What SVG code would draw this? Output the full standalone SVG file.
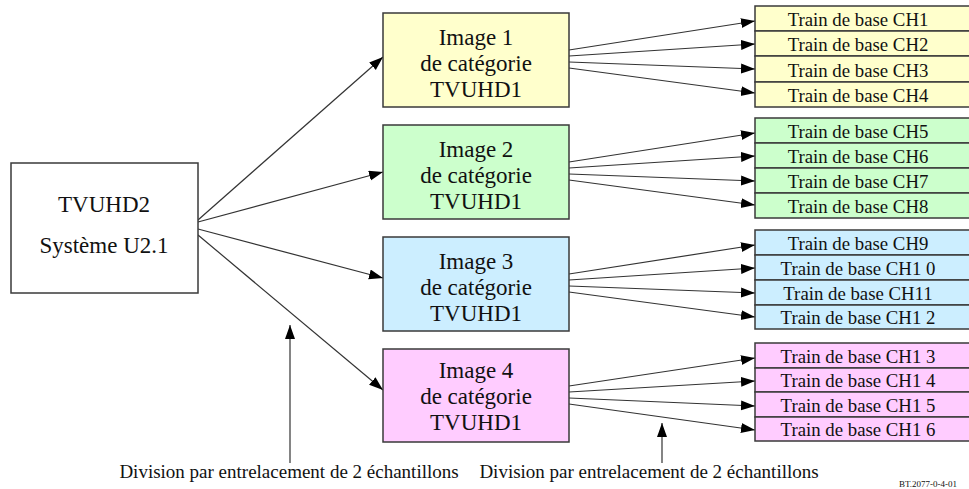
<svg xmlns="http://www.w3.org/2000/svg" width="969" height="489" viewBox="0 0 969 489">
<style>
.box{stroke:#3a3a3a;stroke-width:1.5}
text{font-family:'Liberation Serif','DejaVu Serif','Noto Serif',serif;fill:#111;text-anchor:middle}
.big{font-size:23px}
.sm{font-size:18.8px}
.lab{font-size:19px}
.ln{stroke:#333;stroke-width:1.2;fill:none;marker-end:url(#ah)}
.y{fill:#FFFFCC}.g{fill:#CCFFCC}.b{fill:#CCEEFF}.p{fill:#FFCCFF}
</style>
<defs>
<marker id="ah" markerUnits="userSpaceOnUse" markerWidth="16" markerHeight="12" refX="14" refY="5" orient="auto">
<path d="M0,0 L14,5 L0,10 Z" fill="#000"/>
</marker>
</defs>
<rect width="969" height="489" fill="#fff"/>
<g id="connectors">
<path class="ln" d="M198,220 L383,57"/>
<path class="ln" d="M198,222 L383,172"/>
<path class="ln" d="M198,229 L383,278"/>
<path class="ln" d="M198,235 L383,390"/>
<path class="ln" d="M569,50 L755,21"/>
<path class="ln" d="M569,56 L755,44"/>
<path class="ln" d="M569,62 L755,69"/>
<path class="ln" d="M569,68 L755,93"/>
<path class="ln" d="M569,162 L755,133"/>
<path class="ln" d="M569,168 L755,156"/>
<path class="ln" d="M569,174 L755,181"/>
<path class="ln" d="M569,180 L755,205"/>
<path class="ln" d="M569,274 L755,245"/>
<path class="ln" d="M569,280 L755,268"/>
<path class="ln" d="M569,286 L755,293"/>
<path class="ln" d="M569,292 L755,317"/>
<path class="ln" d="M569,386 L755,358"/>
<path class="ln" d="M569,392 L755,381"/>
<path class="ln" d="M569,398 L755,406"/>
<path class="ln" d="M569,404 L755,430"/>
<path class="ln" d="M290,463 L290,325"/>
<path class="ln" d="M662,463 L662,423"/>
</g>
<g id="tvuhd2">
<rect class="box" x="11" y="163" width="187" height="130" fill="#fff"/>
<text class="big" x="104" y="212">TVUHD2</text>
<text class="big" x="104" y="253">Système U2.1</text>
</g>
<g id="image1">
<rect class="box y" x="383" y="13" width="186" height="94"/>
<text class="big" x="476" y="45">Image 1</text>
<text class="big" x="476" y="71">de catégorie</text>
<text class="big" x="476" y="97">TVUHD1</text>
</g>
<g id="image2">
<rect class="box g" x="383" y="125" width="186" height="94"/>
<text class="big" x="476" y="157">Image 2</text>
<text class="big" x="476" y="183">de catégorie</text>
<text class="big" x="476" y="209">TVUHD1</text>
</g>
<g id="image3">
<rect class="box b" x="383" y="237" width="186" height="94"/>
<text class="big" x="476" y="269">Image 3</text>
<text class="big" x="476" y="295">de catégorie</text>
<text class="big" x="476" y="321">TVUHD1</text>
</g>
<g id="image4">
<rect class="box p" x="383" y="349" width="186" height="93"/>
<text class="big" x="476" y="378">Image 4</text>
<text class="big" x="476" y="404">de catégorie</text>
<text class="big" x="476" y="430">TVUHD1</text>
</g>
<g id="trains1">
<rect class="box y" x="755" y="6" width="220" height="25"/>
<rect class="box y" x="755" y="31" width="220" height="25"/>
<rect class="box y" x="755" y="56" width="220" height="26"/>
<rect class="box y" x="755" y="82" width="220" height="25"/>
<text class="sm" x="858" y="26">Train de base CH1</text>
<text class="sm" x="858" y="51">Train de base CH2</text>
<text class="sm" x="858" y="77">Train de base CH3</text>
<text class="sm" x="858" y="102">Train de base CH4</text>
</g>
<g id="trains2">
<rect class="box g" x="755" y="118" width="220" height="25"/>
<rect class="box g" x="755" y="143" width="220" height="25"/>
<rect class="box g" x="755" y="168" width="220" height="25"/>
<rect class="box g" x="755" y="193" width="220" height="25"/>
<text class="sm" x="858" y="138">Train de base CH5</text>
<text class="sm" x="858" y="163">Train de base CH6</text>
<text class="sm" x="858" y="188">Train de base CH7</text>
<text class="sm" x="858" y="213">Train de base CH8</text>
</g>
<g id="trains3">
<rect class="box b" x="755" y="230" width="220" height="25"/>
<rect class="box b" x="755" y="255" width="220" height="25"/>
<rect class="box b" x="755" y="280" width="220" height="25"/>
<rect class="box b" x="755" y="305" width="220" height="24"/>
<text class="sm" x="858" y="250">Train de base CH9</text>
<text class="sm" x="858" y="275">Train de base CH1 0</text>
<text class="sm" x="858" y="300">Train de base CH11</text>
<text class="sm" x="858" y="324">Train de base CH1 2</text>
</g>
<g id="trains4">
<rect class="box p" x="755" y="343" width="220" height="25"/>
<rect class="box p" x="755" y="368" width="220" height="24"/>
<rect class="box p" x="755" y="392" width="220" height="25"/>
<rect class="box p" x="755" y="417" width="220" height="24"/>
<text class="sm" x="858" y="363">Train de base CH1 3</text>
<text class="sm" x="858" y="387">Train de base CH1 4</text>
<text class="sm" x="858" y="412">Train de base CH1 5</text>
<text class="sm" x="858" y="436">Train de base CH1 6</text>
</g>
<g id="labels">
<text class="lab" x="289" y="478">Division par entrelacement de 2 échantillons</text>
<text class="lab" x="649" y="478">Division par entrelacement de 2 échantillons</text>
<text x="928" y="487" style="font-size:9px">BT.2077-0-4-01</text>
</g>
</svg>
